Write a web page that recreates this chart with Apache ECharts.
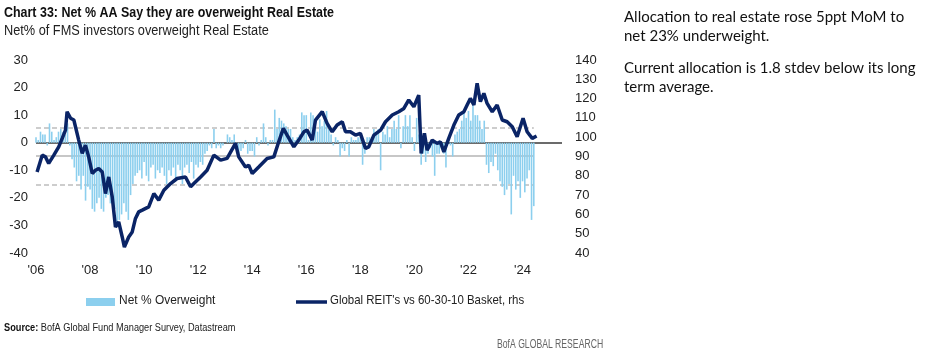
<!DOCTYPE html>
<html><head><meta charset="utf-8">
<script src="https://cdn.jsdelivr.net/npm/echarts@6/dist/echarts.min.js"></script>
<style>html,body{margin:0;padding:0;background:#fff;}#c{width:927px;height:356px;}</style>
</head><body><div id="c"></div>
<script>
// Monthly Net % overweight, Jan 2006 .. Jun 2024
const netOW = {
  y2006: [2, 1, 4, 3, 3, -1, 7, 4, 1, 2, 4, 5],
  y2007: [4, 3, 7, -1, -6, -9, -14, -12, -17, -12, -21, -16],
  y2008: [-17, -24, -25, -22, -20, -24, -25, -20, -19, -22, -21, -24],
  y2009: [-30, -28, -26, -22, -25, -28, -19, -15, -12, -11, -10, -13],
  y2010: [-7, -12, -14, -9, -8, -13, -10, -11, -9, -12, -15, -10],
  y2011: [-12, -9, -14, -8, -10, -15, -9, -8, -11, -7, -13, -8],
  y2012: [-9, -7, -8, -4, -3, -1, -2, 5, -2, -1, -2, -1],
  y2013: [0, 3, 2, 1, 3, -1, -4, -3, -2, 1, -4, -3],
  y2014: [-3, -5, 2, -1, 1, 7, 2, -1, 1, 1, 12, 5],
  y2015: [9, 8, 7, 6, 5, 5, 2, 1, 2, 3, 11, 10],
  y2016: [10, 1, 11, 10, 6, 4, 8.5, 6, 8, 11.5, 5, 3],
  y2017: [-1, 2, 1, -5, -2, -3, 1, -5, 2, 1, 1, 2],
  y2018: [2, -8, -4, 2, 2, 2, 5, 3, 5, -10, 4, 3],
  y2019: [6, 2, 5, 8, 5, 10, -2, 6, 10, 6, 10, 2],
  y2020: [-3, 9, 3, -8, -4, -7, -4, -2, -5, -12, -4, -4],
  y2021: [-2, -4, -9, 1, -1, -5, 3, 4, 5, 8, 11, 9],
  y2022: [11.5, 8, 14.5, 10, 10, 8, 5, 8, -8, -11, -7, -8.5],
  y2023: [-4, -10, -14, -16, -19, -17, -15, -26, -12, -17, -14, -20],
  y2024: [-14, -18, -13, -10, -28, -23]
};
// Global REIT's vs 60-30-10 Basket (rhs): decimal year and value
const reitDates = [2006.04,2006.23,2006.35,2006.47,2006.66,2006.84,2006.97,2007.09,2007.15,2007.28,2007.40,2007.58,2007.71,2007.83,2007.95,2008.08,2008.20,2008.32,2008.45,2008.57,2008.69,2008.82,2008.94,2009.06,2009.19,2009.27,2009.43,2009.56,2009.68,2009.80,2009.93,2010.17,2010.36,2010.54,2010.73,2010.98,2011.22,2011.53,2011.72,2011.84,2012.09,2012.33,2012.58,2012.83,2013.07,2013.38,2013.50,2013.75,2013.87,2014.00,2014.24,2014.55,2014.80,2014.98,2015.15,2015.29,2015.54,2015.72,2015.91,2016.03,2016.22,2016.34,2016.59,2016.77,2016.96,2017.14,2017.33,2017.45,2017.63,2017.82,2018.00,2018.19,2018.31,2018.50,2018.75,2018.93,2019.18,2019.42,2019.61,2019.79,2019.98,2020.16,2020.25,2020.37,2020.47,2020.66,2020.84,2020.96,2021.09,2021.27,2021.46,2021.64,2021.83,2021.95,2022.07,2022.20,2022.32,2022.44,2022.57,2022.69,2022.88,2023.06,2023.25,2023.43,2023.62,2023.80,2024.02,2024.17,2024.36,2024.52];
const reitValues = [82.0,90.7,89.8,86.4,90.7,95.0,99.4,103.7,113.2,109.8,108.9,98.5,91.6,95.9,89.8,81.2,82.9,83.8,82.0,70.8,79.4,69.1,53.5,56.1,48.3,43.1,48.3,50.9,57.9,61.3,62.2,63.9,70.8,67.4,72.5,76.0,78.6,79.4,74.3,76.0,79.4,82.9,90.7,88.1,89.0,96.8,89.8,84.6,85.5,81.2,84.6,89.0,89.8,97.6,104.6,101.1,95.0,98.5,102.8,103.7,98.5,108.9,113.2,107.2,102.8,106.3,108.0,102.8,102.8,101.1,102.0,94.2,95.0,101.1,103.7,108.0,111.5,113.2,114.9,119.3,115.8,121.8,91.6,102.0,93.3,98.5,96.8,97.6,92.4,99.4,106.3,111.5,113.2,116.7,120.1,116.7,127.9,118.4,122.7,117.5,113.2,116.7,108.9,108.0,105.4,100.2,109.8,102.8,99.4,100.6];
// Reference lines (lhs): long-term average and +/- 1 stdev
const avgLine = -4.9;
const stdevUp = 5.6;
const stdevDown = -15.4;
const xTickYears = [2006, 2008, 2010, 2012, 2014, 2016, 2018, 2020, 2022, 2024];
const leftTicks = [-40, -30, -20, -10, 0, 10, 20, 30];
const rightTicks = [40, 50, 60, 70, 80, 90, 100, 110, 120, 130, 140];

const barData = [];
Object.keys(netOW).forEach(function (k) {
  const yr = parseInt(k.slice(1), 10);
  netOW[k].forEach(function (v, i) { barData.push([yr + i / 12, v]); });
});
const lineData = reitDates.map(function (d, i) { return [d, reitValues[i]]; });
const lastX = barData[barData.length - 1][0];

const FONT = '"Liberation Sans", Arial, sans-serif';
const BAR = '#8ccfee';
const LINE = '#0a2466';
const chart = echarts.init(document.getElementById('c'), null, { renderer: 'canvas' });
const option = {
  animation: false,
  textStyle: { fontFamily: FONT },
  grid: { left: 36, right: 365, top: 60, bottom: 103 },
  xAxis: {
    type: 'value', min: 2006, max: 2025.46, interval: 2,
    axisLine: { show: false }, axisTick: { show: false }, splitLine: { show: false },
    axisLabel: { margin: 11, fontSize: 13, color: '#222', fontFamily: FONT, showMaxLabel: false,
      formatter: function (v) { return xTickYears.indexOf(v) >= 0 ? "'" + String(v).slice(2) : ''; } }
  },
  yAxis: [
    { type: 'value', min: leftTicks[0], max: leftTicks[leftTicks.length - 1], interval: 10,
      axisLine: { show: false }, axisTick: { show: false }, splitLine: { show: false },
      axisLabel: { fontSize: 13, color: '#222', fontFamily: FONT, margin: 8 } },
    { type: 'value', min: rightTicks[0], max: rightTicks[rightTicks.length - 1], interval: 10, position: 'right',
      axisLine: { show: false }, axisTick: { show: false }, splitLine: { show: false },
      axisLabel: { fontSize: 13, color: '#222', fontFamily: FONT, margin: 13 } }
  ],
  series: [
    { name: 'Net % Overweight', type: 'bar', yAxisIndex: 0, barWidth: 1.6,
      itemStyle: { color: BAR }, data: barData, z: 2,
      markLine: { silent: true, symbol: 'none', label: { show: false }, z: 1,
        data: [
          [{ coord: [2006, stdevUp] }, { coord: [lastX, stdevUp] }],
          [{ coord: [2006, stdevDown] }, { coord: [lastX, stdevDown] }],
          [{ coord: [2006, avgLine], lineStyle: { type: 'solid', color: '#b5b5b5', width: 1.5 } }, { coord: [lastX, avgLine] }],
          [{ coord: [2006, 0], lineStyle: { type: 'solid', color: '#3a3a3a', width: 1.5 } }, { coord: [2025.46, 0] }]
        ],
        lineStyle: { type: [5, 3], color: '#bdbdbd', width: 1.5 } } },
    { name: "Global REIT's vs 60-30-10 Basket, rhs", type: 'line', yAxisIndex: 1, showSymbol: false, symbol: 'none',
      lineStyle: { color: LINE, width: 3.5 }, itemStyle: { color: LINE }, data: lineData, z: 5 }
  ],
  graphic: [
    { type: 'text', x: 4, y: 5, scaleX: 0.83, style: { text: 'Chart 33: Net % AA Say they are overweight Real Estate', fontFamily: FONT, fontWeight: 'bold', fontSize: 15, fill: '#111' } },
    { type: 'text', x: 4, y: 24, scaleX: 0.91, style: { text: 'Net% of FMS investors overweight Real Estate', fontFamily: FONT, fontSize: 14, fill: '#222' } },
    // legend
    { type: 'rect', shape: { x: 86, y: 298, width: 29, height: 8 }, style: { fill: BAR } },
    { type: 'text', x: 119, y: 294, scaleX: 0.92, style: { text: 'Net % Overweight', fontFamily: FONT, fontSize: 13, fill: '#222' } },
    { type: 'line', shape: { x1: 296, y1: 302, x2: 327, y2: 302 }, style: { stroke: LINE, lineWidth: 3.5 } },
    { type: 'text', x: 330, y: 294, scaleX: 0.88, style: { text: "Global REIT's vs 60-30-10 Basket, rhs", fontFamily: FONT, fontSize: 13, fill: '#222' } },
    { type: 'text', x: 4, y: 323, scaleX: 0.92, style: { rich: { b: { fontWeight: 'bold', fontFamily: FONT, fontSize: 10, fill: '#111' }, n: { fontFamily: FONT, fontSize: 10, fill: '#222' } }, text: '{b|Source:}{n| BofA Global Fund Manager Survey, Datastream}' } },
    { type: 'text', x: 497, y: 339, scaleX: 0.72, style: { text: 'BofA GLOBAL RESEARCH', fontFamily: FONT, fontSize: 12, fill: '#666' } },
    { type: 'text', x: 624, y: 8, style: { text: 'Allocation to real estate rose 5ppt MoM to\nnet 23% underweight.', fontFamily: 'Lato, sans-serif', fontSize: 15, lineHeight: 19, fill: '#111' } },
    { type: 'text', x: 624, y: 59, style: { text: 'Current allocation is 1.8 stdev below its long\nterm average.', fontFamily: 'Lato, sans-serif', fontSize: 15, lineHeight: 19, fill: '#111' } }
  ]
};
chart.setOption(option);
</script></body></html>
